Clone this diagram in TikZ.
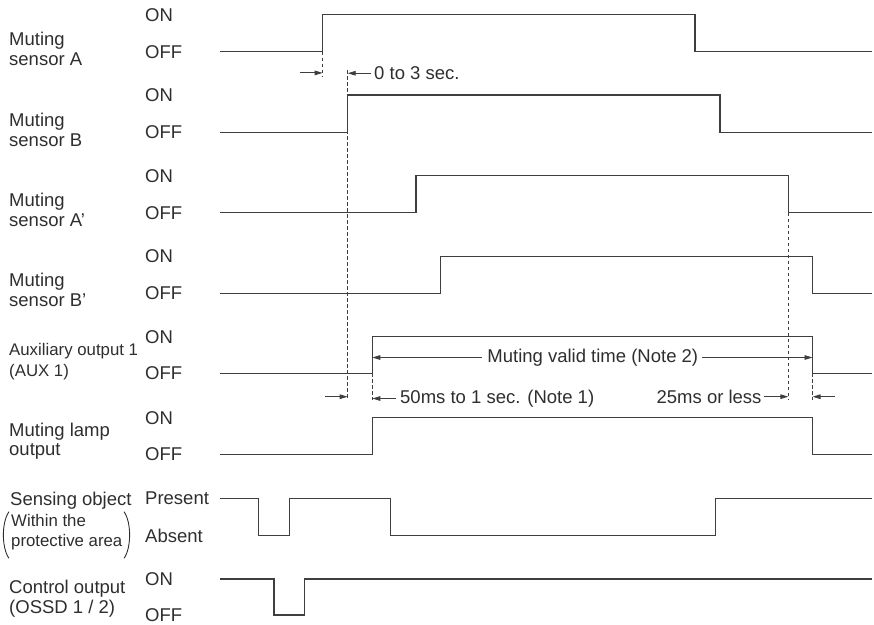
\documentclass[tikz,border=0pt]{standalone}
\usepackage{fontspec}
\setmainfont{Liberation Sans}
\usetikzlibrary{arrows.meta, positioning, calc}
\definecolor{cline}{HTML}{3F3F3F}
\definecolor{ctext}{HTML}{2E2E2E}
\tikzset{
  sig/.style={draw=cline, line width=1.5pt},
  guide/.style={draw=cline, line width=0.9pt, dash pattern=on 3.5pt off 2.5pt},
  dim/.style={-{Triangle[length=8pt, width=4.6pt]}, draw=cline, line width=0.9pt},
  paren/.style={draw=ctext, line width=0.9pt},
  lbl/.style={font=\fontsize{18.5}{21}\selectfont, text=ctext, inner sep=0pt, anchor=base west},
  lblsmall/.style={lbl, font=\fontsize{16.8}{20}\selectfont},
}

\begin{document}
\begin{tikzpicture}[x=1pt, y=-1pt]
  \useasboundingbox (0,0) rectangle (874,624);
  % helper: state names of one row, named <name>hi and <name>lo
  \newcommand{\levels}[5]{% name, y high, y low, text high, text low
    \node[lbl] (#1hi) at (145,{#2+6.6}) {#4};
    \node[lbl] (#1lo) at (145,{#3+6.6}) {#5};}
  % helper: two-line signal name, named <name>top and <name>bot
  \newcommand{\signame}[4]{% name, baseline of first line, line 1, line 2
    \node[lbl] (#1top) at (9,#2) {#3};
    \node[lbl] (#1bot) at (9,{#2+20}) {#4};}
  % muting sensors
  \signame{sa}{45.7}{Muting}{sensor A}
  \levels{sa}{14.7}{51.7}{ON}{OFF}
  \draw[sig] (220,51.7) -| (322.7,14.7) -| (695,51.7) -- (871.7,51.7);
  \signame{sb}{126.3}{Muting}{sensor B}
  \levels{sb}{95}{132.3}{ON}{OFF}
  \draw[sig] (220,132.3) -| (347.7,95) -| (720,132.3) -- (871.7,132.3);
  \signame{sc}{206.7}{Muting}{sensor A’}
  \levels{sc}{175.7}{212.7}{ON}{OFF}
  \draw[sig] (220,212.7) -| (416,175.7) -| (788.3,212.7) -- (871.7,212.7);
  \signame{sd}{286}{Muting}{sensor B’}
  \levels{sd}{256.3}{293.3}{ON}{OFF}
  \draw[sig] (220,293.3) -| (440.7,256.3) -| (812.5,293.3) -- (871.7,293.3);
  % outputs
  \node[lblsmall] (auxtop) at (9,355) {Auxiliary output 1};
  \node[lblsmall] (auxbot) at (9,376.7) {(AUX 1)};
  \levels{aux}{336.7}{373.3}{ON}{OFF}
  \draw[sig] (220,373.3) -| (372.3,336.7) -| (812.5,373.3) -- (871.7,373.3);
  \node[lbl] (lamptop) at (9,436.7) {Muting lamp};
  \node[lbl] (lampbot) at (9,455) {output};
  \levels{lamp}{417.7}{454.3}{ON}{OFF}
  \draw[sig] (220,454.3) -| (372.7,417.7) -| (812.7,454.3) -- (871.7,454.3);
  % sensing object
  \node[lbl] (objtop) at (10,505) {Sensing object};
  \node[lblsmall] (objmid) at (11,526.7) {Within the};
  \node[lblsmall] (objbot) at (11,546.7) {protective area};
  \draw[paren] (9,511.7) .. controls (1.5,522) and (1.5,548) .. (9,558.3);
  \draw[paren] (124,511.7) .. controls (131.5,522) and (131.5,548) .. (124,558.3);
  \levels{obj}{498.3}{535.7}{Present}{Absent}
  \draw[sig] (220,498.3) -| (258.3,535.7) -| (289.3,498.3) -| (390.3,535.7) -| (715.3,498.3) -- (871.7,498.3);
  % control output
  \signame{ossd}{593.3}{Control output}{(OSSD 1 / 2)}
  \levels{ossd}{579}{615.2}{ON}{OFF}
  \draw[sig] (220,579) -| (274,615) -| (304.3,579) -- (871.7,579);
  % edges the timing refers to
  \coordinate (ra) at (322.7,51.7);
  \coordinate (rb) at (347.7,132.3);
  \coordinate (fc) at (788.3,212.7);
  \coordinate (raux) at (372.3,373.3);
  \coordinate (faux) at (812.5,373.3);
  \draw[guide] (ra) -- (322.7,76);
  \draw[guide] (347.7,70) -- (347.7,399);
  \draw[guide] (raux) -- (372.3,400);
  \draw[guide] (fc) -- (788.3,400);
  \draw[guide] (faux) -- (812.5,400);
  % time spans
  \node[lbl] (t03) at (374,79.6) {0 to 3 sec.};
  \coordinate (a03) at (300,72.9);
  \draw[dim] (a03) -- (ra |- a03);
  \draw[dim, shorten <=3pt] (t03.west) -- (rb |- t03.west);
  \node[lbl, anchor=base] (tvalid) at (592.8,362.3) {Muting valid time (Note 2)};
  \draw[dim, shorten <=5pt] (tvalid.west) -- (raux |- tvalid.west);
  \draw[dim, shorten <=4pt] (tvalid.east) -- (faux |- tvalid.east);
  \node[lbl] (t50) at (400,403.3) {50ms to 1 sec. (Note 1)};
  \node[lbl, anchor=base east] (t25) at (761.7,403.3) {25ms or less};
  \coordinate (a50) at (325,396.7);
  \coordinate (a25) at (835,396.7);
  \draw[dim] (a50) -- (rb |- a50);
  \draw[dim, shorten <=4pt] (t50.west) -- (raux |- t50.west);
  \draw[dim, shorten <=2pt] (t25.east) -- (fc |- t25.east);
  \draw[dim] (a25) -- (faux |- a25);
\end{tikzpicture}
\end{document}
